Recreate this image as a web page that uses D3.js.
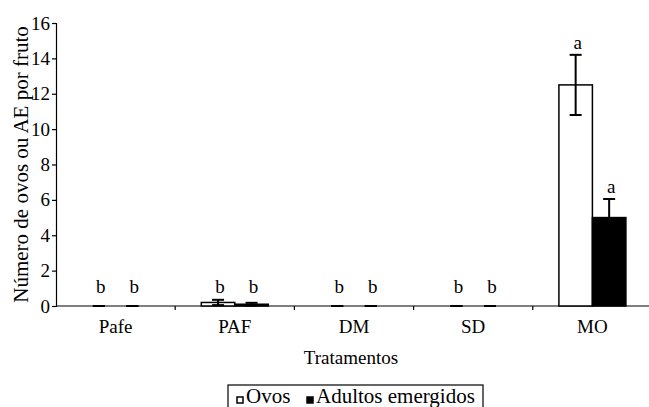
<!DOCTYPE html>
<html>
<head>
<meta charset="utf-8">
<script src="https://cdn.jsdelivr.net/npm/d3@7"></script>
<style>
  body { margin: 0; background: #fff; }
  svg text { font-family: "Liberation Serif", "Times New Roman", Times, serif; fill: #000; }
</style>
</head>
<body>
<svg id="chart"></svg>
<script>
// Data
const categories = ["Pafe", "PAF", "DM", "SD", "MO"];
const seriesNames = ["Ovos", "Adultos emergidos"];
const ovos = [0, 0.2, 0, 0, 12.5];
const ovosErr = [0, 0.15, 0, 0, 1.7];
const adultos = [0, 0.1, 0, 0, 5.0];
const adultosErr = [0, 0.08, 0, 0, 1.05];
const ovosLetters = ["b", "b", "b", "b", "a"];
const adultosLetters = ["b", "b", "b", "b", "a"];
const yTicks = [0, 2, 4, 6, 8, 10, 12, 14, 16];

const width = 649;
const height = 407;
const serif = "'Liberation Serif', 'Times New Roman', Times, serif";

const svg = d3.select("#chart").attr("width", width).attr("height", height);

const x = d3.scaleBand().domain(categories).range([56, 652]).padding(0);
const y = d3.scaleLinear().domain([0, 16]).range([306, 23]);
const inner = d3.scaleBand().domain(seriesNames).range([0, 67]);
const fills = ["#fff", "#000"];

// y axis
const yAxis = svg.append("g")
  .attr("transform", `translate(${x.range()[0]},0)`)
  .call(d3.axisLeft(y).tickValues(yTicks).tickSize(4).tickPadding(2).tickFormat(d3.format("d")));
yAxis.attr("font-family", serif);
yAxis.select(".domain").attr("stroke", "#000").attr("stroke-width", 1.2);
yAxis.selectAll(".tick line").attr("stroke", "#000").attr("stroke-width", 1.2);
yAxis.selectAll(".tick text").attr("font-size", 19);

// x axis line and boundary ticks
svg.append("line")
  .attr("x1", x.range()[0]).attr("x2", x.range()[1])
  .attr("y1", y(0)).attr("y2", y(0))
  .attr("stroke", "#000").attr("stroke-width", 1.2);

svg.selectAll(".xtick")
  .data(categories.slice(1))
  .join("line")
  .attr("x1", d => x(d)).attr("x2", d => x(d))
  .attr("y1", y(0)).attr("y2", y(0) + 4)
  .attr("stroke", "#000").attr("stroke-width", 1.2);

svg.selectAll(".xlabel")
  .data(categories)
  .join("text")
  .attr("x", d => x(d) + x.bandwidth() / 2)
  .attr("y", y(0) + 27)
  .attr("text-anchor", "middle")
  .attr("font-size", 19)
  .text(d => d);

// bars
const rows = categories.map((c, i) => ({
  cat: c,
  values: [
    { s: seriesNames[0], v: ovos[i], e: ovosErr[i], l: ovosLetters[i], k: 0 },
    { s: seriesNames[1], v: adultos[i], e: adultosErr[i], l: adultosLetters[i], k: 1 }
  ]
}));

const groups = svg.selectAll(".grp")
  .data(rows)
  .join("g")
  .attr("transform", d => `translate(${x(d.cat) + (x.bandwidth() - inner.range()[1]) / 2},0)`);

const items = groups.selectAll(".item").data(d => d.values).join("g");

items.append("rect")
  .attr("x", d => inner(d.s))
  .attr("y", d => y(d.v))
  .attr("width", inner.bandwidth())
  .attr("height", d => y(0) - y(d.v))
  .attr("fill", d => fills[d.k])
  .attr("stroke", "#000")
  .attr("stroke-width", d => d.v > 0 ? 1.5 : 0);

// error bars
items.append("line")
  .attr("x1", d => inner(d.s) + inner.bandwidth() / 2)
  .attr("x2", d => inner(d.s) + inner.bandwidth() / 2)
  .attr("y1", d => y(Math.max(0, d.v - d.e)))
  .attr("y2", d => y(d.v + d.e))
  .attr("stroke", "#000")
  .attr("stroke-width", 2);

items.selectAll(".cap")
  .data(d => [Math.max(0, d.v - d.e), d.v + d.e].map(t => ({ t, d })))
  .join("line")
  .attr("x1", c => inner(c.d.s) + inner.bandwidth() / 2 - 6)
  .attr("x2", c => inner(c.d.s) + inner.bandwidth() / 2 + 6)
  .attr("y1", c => y(c.t))
  .attr("y2", c => y(c.t))
  .attr("stroke", "#000")
  .attr("stroke-width", 2);

// significance letters
items.append("text")
  .attr("x", d => inner(d.s) + inner.bandwidth() / 2 + 2)
  .attr("y", d => Math.min(y(d.v + d.e) - 6, y(0) - 13))
  .attr("text-anchor", "middle")
  .attr("font-size", 19)
  .text(d => d.l);

// axis titles
svg.append("text")
  .attr("transform", `translate(28,${(y(0) + y(16)) / 2}) rotate(-90)`)
  .attr("text-anchor", "middle")
  .attr("font-size", 21)
  .text("Número de ovos ou AE por fruto");

svg.append("text")
  .attr("x", 351)
  .attr("y", 364)
  .attr("text-anchor", "middle")
  .attr("font-size", 19)
  .text("Tratamentos");

// legend
const legend = svg.append("g").attr("transform", "translate(228,385)");
legend.append("rect")
  .attr("width", 255).attr("height", 26)
  .attr("fill", "#fff").attr("stroke", "#000").attr("stroke-width", 1.2);

const legendX = [9, 79];
const legItems = legend.selectAll(".leg")
  .data(seriesNames)
  .join("g")
  .attr("transform", (d, i) => `translate(${legendX[i]},0)`);

legItems.append("rect")
  .attr("x", 0).attr("y", 12)
  .attr("width", 6).attr("height", 6)
  .attr("fill", (d, i) => fills[i])
  .attr("stroke", "#000").attr("stroke-width", 1.5);

legItems.append("text")
  .attr("x", 9).attr("y", 18)
  .attr("font-size", 21)
  .text(d => d);
</script>
</body>
</html>
